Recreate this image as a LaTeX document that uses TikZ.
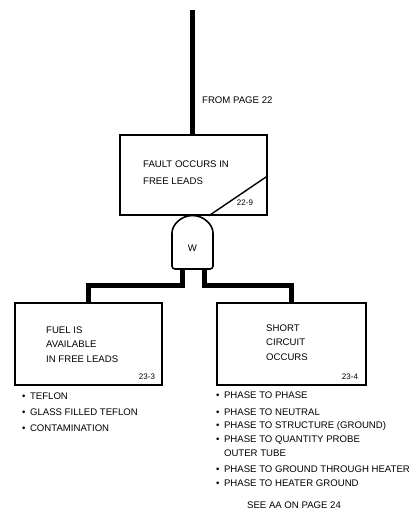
\documentclass[tikz,border=0pt]{standalone}
\usepackage{fontspec}
\setmainfont{Liberation Sans}
\newcommand{\itm}{\textbullet\hspace{4.5pt}}
\tikzset{
  event/.style={draw,line width=1.6pt,minimum width=#1,minimum height=82pt,inner sep=0pt},
  feed/.style={line width=5pt},
  txt/.style={font=\fontsize{9.6}{11}\selectfont,inner sep=0pt},
  ref/.style={font=\fontsize{8}{9}\selectfont,inner sep=0pt},
}
\begin{document}
\begin{tikzpicture}[x=1pt,y=-1pt]
\useasboundingbox (0,0) rectangle (419,523);
% top event
\coordinate (in) at (192,10);
\node[event=147pt,minimum height=80pt] (fault) at (193.5,175) {};
\draw[feed] (in) -- (in |- fault.north);
\node[txt,anchor=west] (from) at (202,100) {FROM PAGE 22};
\node[txt,anchor=west,align=left,font=\fontsize{9.6}{17}\selectfont] (faulttxt) at (143,172.5) {FAULT OCCURS IN\\FREE LEADS};
\draw[line width=1.4pt] ([xshift=-59pt]fault.south east) -- ([yshift=40pt]fault.south east);
\node[ref] (n229) at (245,203) {22-9};
% and gate
\draw[line width=1.6pt,rounded corners=3pt] (172,269) -- (172,236) arc[start angle=180,end angle=0,radius=20.5pt] -- (213,269) -- cycle;
\node[txt] (w) at (192.5,248) {W};
\coordinate (gl) at (182,269);
\coordinate (gr) at (204,269);
% lower events
\node[event=147pt] (fuel) at (88.5,344) {};
\node[event=149pt] (short) at (291.5,344) {};
\draw[feed] (gl) -- ++(0,16) -| (fuel.north);
\draw[feed] (gr) -- ++(0,16) -| (short.north);
\node[txt,anchor=west,align=left,font=\fontsize{9.6}{14.5}\selectfont] (fueltxt) at (46,344.5) {FUEL IS\\AVAILABLE\\IN FREE LEADS};
\node[txt,anchor=west,align=left,font=\fontsize{9.6}{14.5}\selectfont] (shorttxt) at (266,342.5) {SHORT\\CIRCUIT\\OCCURS};
\node[ref] (n233) at (147,377) {23-3};
\node[ref] (n234) at (350,377) {23-4};
% causes
\node[txt,anchor=north west,align=left,font=\fontsize{9.6}{16}\selectfont] (fuellist) at (22,392.5)
  {\itm TEFLON\\\itm GLASS FILLED TEFLON\\\itm CONTAMINATION};
\node[txt,anchor=north west,align=left,font=\fontsize{9.6}{13.7}\selectfont] (shortlist) at (216,391.5)
  {\itm PHASE TO PHASE\\[3pt]\itm PHASE TO NEUTRAL\\\itm PHASE TO STRUCTURE (GROUND)\\
   \itm PHASE TO QUANTITY PROBE\\\hphantom{\itm}OUTER TUBE\\[3pt]
   \itm PHASE TO GROUND THROUGH HEATER\\\itm PHASE TO HEATER GROUND};
\node[txt] (see) at (294,505) {SEE AA ON PAGE 24};
\end{tikzpicture}
\end{document}
